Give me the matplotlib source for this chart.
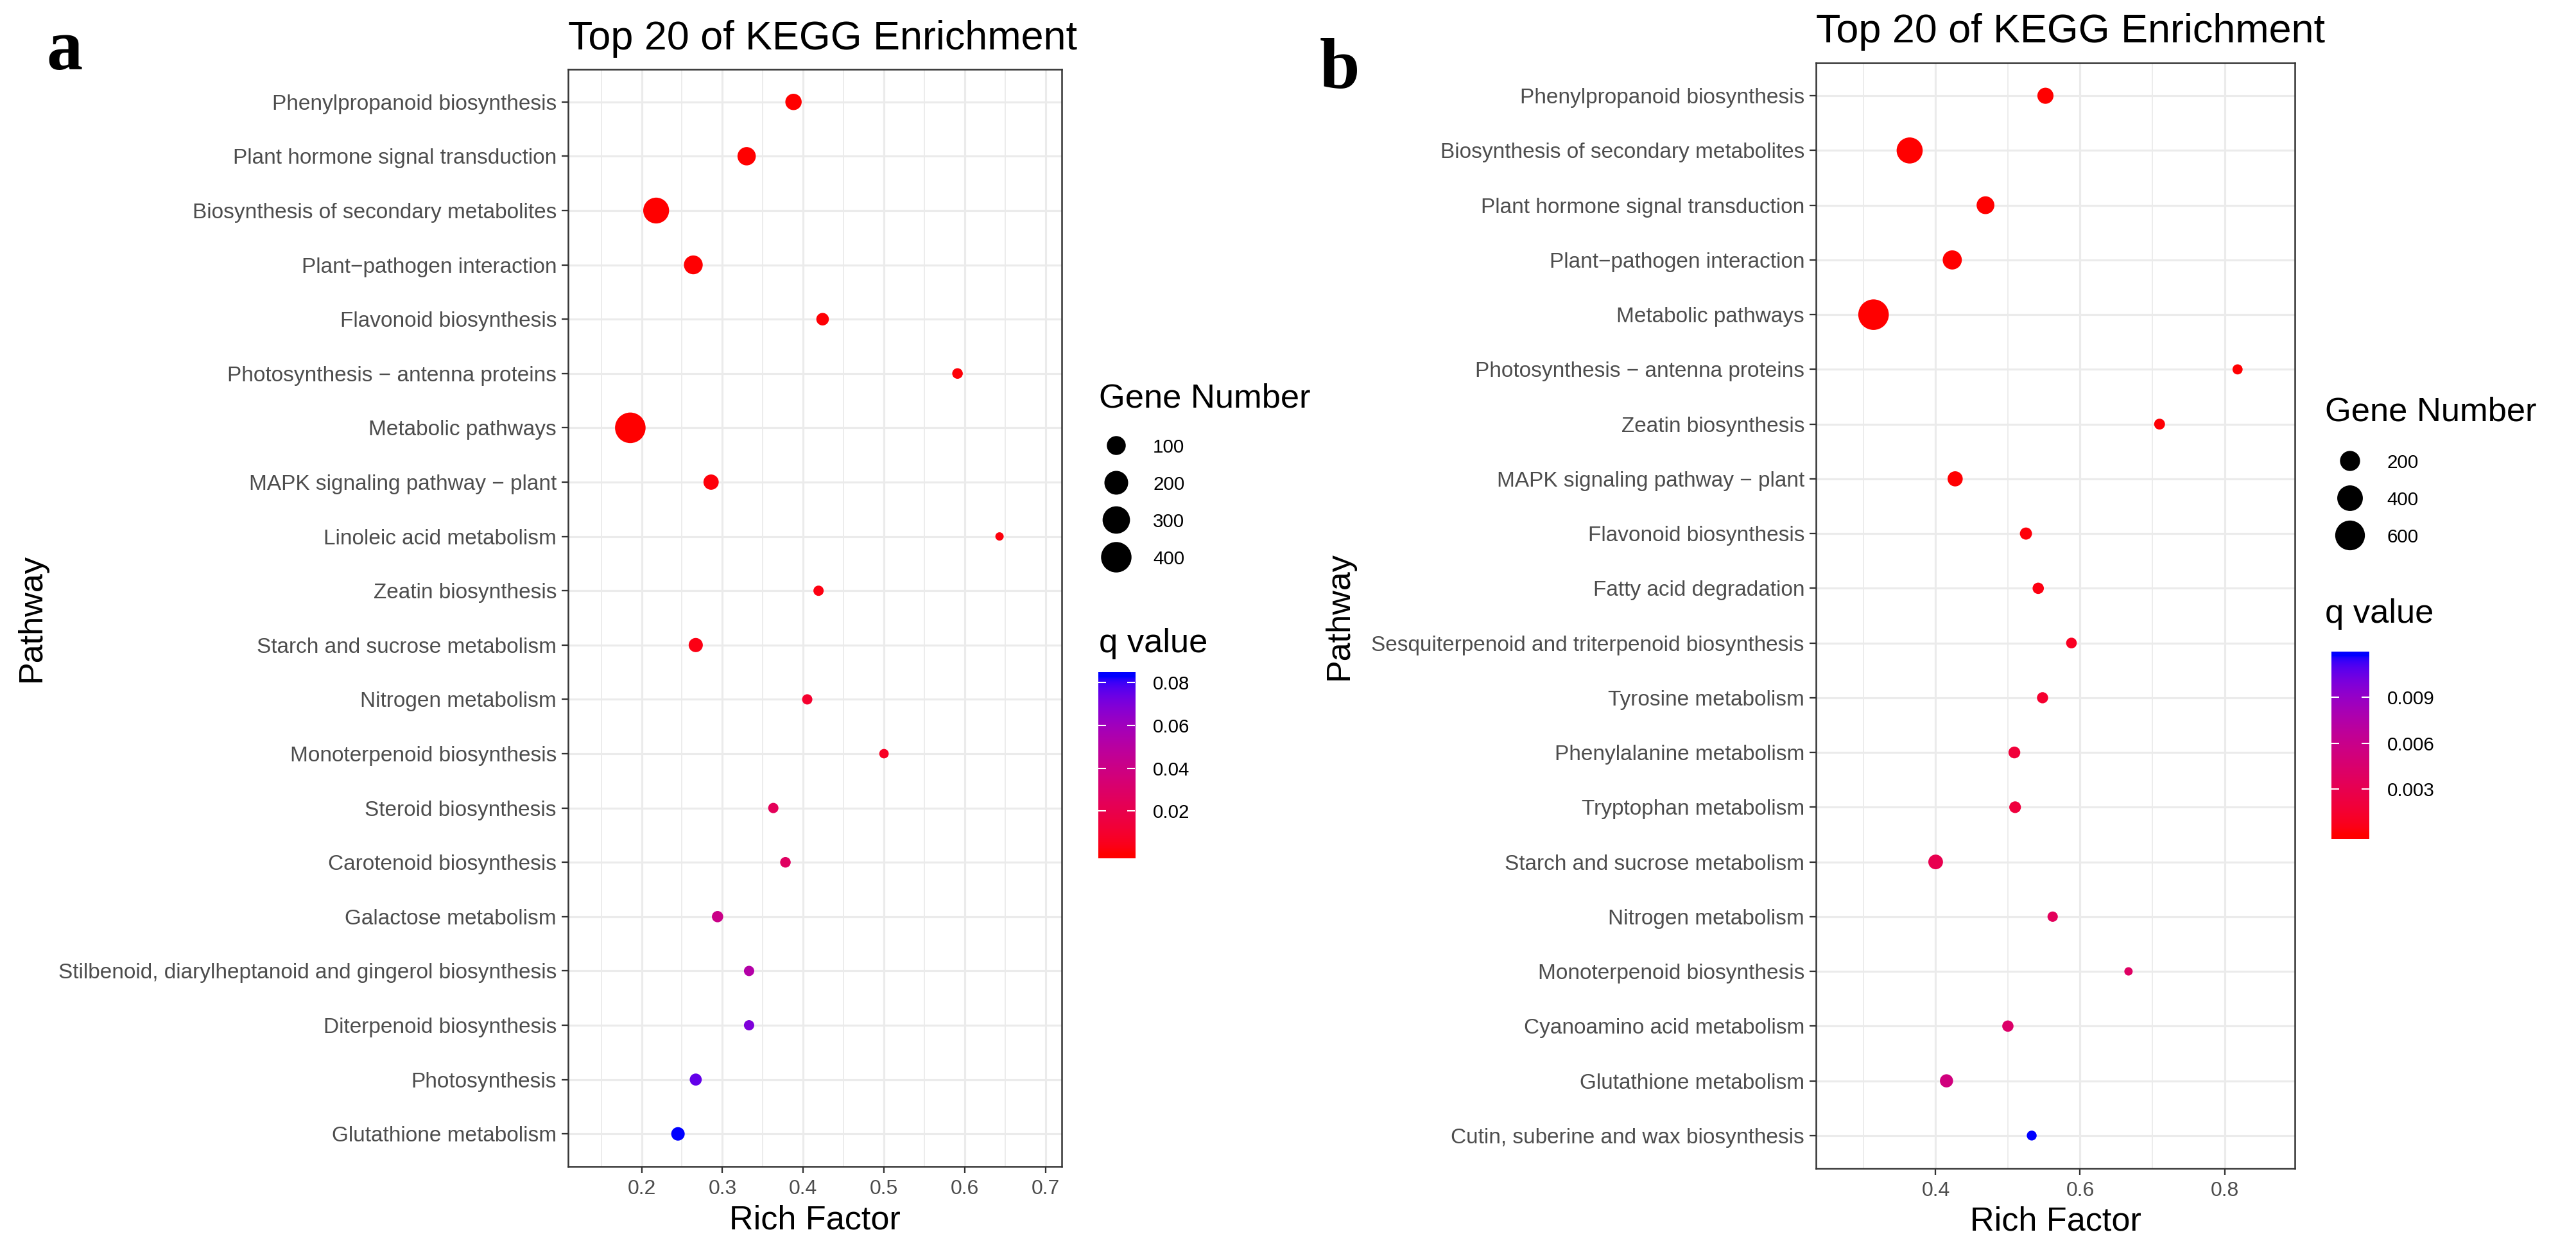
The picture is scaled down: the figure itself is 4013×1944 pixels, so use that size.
import numpy as np
import matplotlib
matplotlib.use('Agg')
import matplotlib.pyplot as plt
from matplotlib.colors import LinearSegmentedColormap, Normalize

plt.rcParams['font.family'] = ['Liberation Sans', 'DejaVu Sans']

W, H, DPI = 4013, 1944, 300
PT = 72.0 / DPI  # points per pixel

# ---------------- data ----------------
title_text = "Top 20 of KEGG Enrichment"

pathways_a = [
    "Phenylpropanoid biosynthesis",
    "Plant hormone signal transduction",
    "Biosynthesis of secondary metabolites",
    "Plant\u2212pathogen interaction",
    "Flavonoid biosynthesis",
    "Photosynthesis \u2212 antenna proteins",
    "Metabolic pathways",
    "MAPK signaling pathway \u2212 plant",
    "Linoleic acid metabolism",
    "Zeatin biosynthesis",
    "Starch and sucrose metabolism",
    "Nitrogen metabolism",
    "Monoterpenoid biosynthesis",
    "Steroid biosynthesis",
    "Carotenoid biosynthesis",
    "Galactose metabolism",
    "Stilbenoid, diarylheptanoid and gingerol biosynthesis",
    "Diterpenoid biosynthesis",
    "Photosynthesis",
    "Glutathione metabolism",
]
rich_a = [0.388, 0.330, 0.218, 0.264, 0.424, 0.591, 0.186, 0.286, 0.643, 0.419,
          0.267, 0.405, 0.500, 0.363, 0.378, 0.294, 0.333, 0.333, 0.267, 0.245]
genes_a = [62, 90, 255, 98, 25, 15, 403, 49, 11, 14,
           38, 14, 12, 14, 15, 18, 14, 14, 22, 32]
qval_a = [0.0002, 0.0003, 0.0001, 0.0005, 0.0010, 0.0012, 0.0002, 0.0015, 0.0020, 0.0025,
          0.0033, 0.0095, 0.0068, 0.0240, 0.0270, 0.0410, 0.0520, 0.0700, 0.0750, 0.0826]
size_breaks_a = [100, 200, 300, 400]
q_breaks_a = [0.02, 0.04, 0.06, 0.08]
q_labels_a = ["0.02", "0.04", "0.06", "0.08"]
x_major_a = [0.2, 0.3, 0.4, 0.5, 0.6, 0.7]
x_labels_a = ["0.2", "0.3", "0.4", "0.5", "0.6", "0.7"]
x_minor_a = [0.15, 0.25, 0.35, 0.45, 0.55, 0.65]

pathways_b = [
    "Phenylpropanoid biosynthesis",
    "Biosynthesis of secondary metabolites",
    "Plant hormone signal transduction",
    "Plant\u2212pathogen interaction",
    "Metabolic pathways",
    "Photosynthesis \u2212 antenna proteins",
    "Zeatin biosynthesis",
    "MAPK signaling pathway \u2212 plant",
    "Flavonoid biosynthesis",
    "Fatty acid degradation",
    "Sesquiterpenoid and triterpenoid biosynthesis",
    "Tyrosine metabolism",
    "Phenylalanine metabolism",
    "Tryptophan metabolism",
    "Starch and sucrose metabolism",
    "Nitrogen metabolism",
    "Monoterpenoid biosynthesis",
    "Cyanoamino acid metabolism",
    "Glutathione metabolism",
    "Cutin, suberine and wax biosynthesis",
]
rich_b = [0.552, 0.364, 0.469, 0.423, 0.314, 0.818, 0.710, 0.427, 0.525, 0.542,
          0.588, 0.548, 0.509, 0.510, 0.400, 0.562, 0.667, 0.500, 0.415, 0.533]
genes_b = [103, 421, 139, 173, 645, 31, 35, 85, 45, 38,
           34, 37, 42, 41, 77, 32, 27, 38, 56, 30]
qval_b = [0.00001, 0.00002, 0.00003, 0.00005, 0.00001, 0.00008, 0.00012, 0.00010, 0.00020, 0.00035,
          0.00090, 0.00140, 0.00190, 0.00210, 0.00290, 0.00350, 0.00390, 0.00420, 0.00530, 0.01170]
size_breaks_b = [200, 400, 600]
q_breaks_b = [0.003, 0.006, 0.009]
q_labels_b = ["0.003", "0.006", "0.009"]
x_major_b = [0.4, 0.6, 0.8]
x_labels_b = ["0.4", "0.6", "0.8"]
x_minor_b = [0.3, 0.5, 0.7]


# ---------------- colour scale (Lab interpolation red -> blue) ----------------
def _srgb_to_lab(rgb):
    c = np.asarray(rgb, float)
    lin = np.where(c <= 0.04045, c / 12.92, ((c + 0.055) / 1.055) ** 2.4)
    M = np.array([[0.4124, 0.3576, 0.1805], [0.2126, 0.7152, 0.0722], [0.0193, 0.1192, 0.9505]])
    xyz = M @ lin / np.array([0.95047, 1.0, 1.08883])
    d = 6 / 29
    f = np.where(xyz > d ** 3, np.cbrt(xyz), xyz / (3 * d * d) + 4 / 29)
    return np.array([116 * f[1] - 16, 500 * (f[0] - f[1]), 200 * (f[1] - f[2])])


def _lab_to_srgb(lab):
    L, a, b = lab
    fy = (L + 16) / 116
    fx = fy + a / 500
    fz = fy - b / 200
    d = 6 / 29
    finv = lambda t: t ** 3 if t > d else 3 * d * d * (t - 4 / 29)
    xyz = np.array([finv(fx) * 0.95047, finv(fy), finv(fz) * 1.08883])
    Minv = np.array([[3.2406, -1.5372, -0.4986], [-0.9689, 1.8758, 0.0415], [0.0557, -0.2040, 1.0570]])
    lin = np.clip(Minv @ xyz, 0, 1)
    return np.where(lin <= 0.0031308, 12.92 * lin, 1.055 * lin ** (1 / 2.4) - 0.055)


lab_lo = _srgb_to_lab([1, 0, 0])
lab_hi = _srgb_to_lab([0, 0, 1])
cmap = LinearSegmentedColormap.from_list(
    "red_blue_lab",
    [np.clip(_lab_to_srgb(lab_lo + (lab_hi - lab_lo) * t), 0, 1) for t in np.linspace(0, 1, 256)])

D_MIN, D_MAX = 13.0, 47.6  # point diameters in pixels


def diam(n, nmin, nmax):
    n = np.asarray(n, float)
    return D_MIN + (D_MAX - D_MIN) * np.sqrt(np.clip((n - nmin) / (nmax - nmin), 0, 1))


def area(n, nmin, nmax):
    return (diam(n, nmin, nmax) * PT) ** 2


fig = plt.figure(figsize=(W / DPI, H / DPI), dpi=DPI)
fig.patch.set_facecolor('white')


def frac_rect(l, t, r, b):
    return [l / W, 1 - b / H, (r - l) / W, (b - t) / H]


def ftext(x, y, s, **kw):
    return fig.text(x / W, 1 - y / H, s, **kw)


ov = fig.add_axes([0, 0, 1, 1])
ov.set_xlim(0, W)
ov.set_ylim(H, 0)
ov.axis('off')
ov.patch.set_alpha(0)

Y_TXT = 8.0
X_TXT = 7.7
AX_TITLE = 12.5
LEG_TXT = 7.1
LEG_TITLE = 12.6


def panel(box, xlim, cats, rich, genes, q, xmaj, xlab, xmin_, title, title_base,
          rf_base, pw_x, label, label_xy, leg):
    ax = fig.add_axes(frac_rect(*box))
    ypos = np.arange(len(cats))
    norm = Normalize(vmin=min(q), vmax=max(q))
    nmin, nmax = min(genes), max(genes)
    ax.set_axisbelow(True)
    ax.scatter(rich, ypos, s=area(genes, nmin, nmax), c=q, cmap=cmap, norm=norm,
               linewidths=0, zorder=3)
    ax.set_xlim(*xlim)
    ax.set_ylim(len(cats) - 0.4, -0.6)
    ax.set_yticks(ypos)
    ax.set_yticklabels(cats)
    ax.set_xticks(xmaj)
    ax.set_xticklabels(xlab)
    ax.set_xticks(xmin_, minor=True)
    ax.grid(True, which='major', color='#EBEBEB', linewidth=0.75)
    ax.grid(True, which='minor', axis='x', color='#EBEBEB', linewidth=0.45)
    ax.tick_params(axis='both', which='major', length=10 * PT, width=0.55, color='#333333',
                   labelcolor='#4D4D4D')
    ax.tick_params(axis='y', pad=8 * PT, labelsize=Y_TXT)
    ax.tick_params(axis='x', pad=10 * PT, labelsize=X_TXT)
    ax.tick_params(axis='x', which='minor', length=0)
    for sp in ax.spines.values():
        sp.set_color('#333333')
        sp.set_linewidth(0.6)
    l, t, r, b = box
    ftext(l, title_base, title, ha='left', va='baseline', fontsize=15.1, color='black')
    ftext((l + r) / 2, rf_base, "Rich Factor", ha='center', va='baseline',
          fontsize=AX_TITLE, color='black')
    ftext(pw_x, (t + b) / 2, "Pathway", rotation=90, rotation_mode='anchor',
          ha='center', va='baseline', fontsize=AX_TITLE, color='black')
    ftext(label_xy[0], label_xy[1], label, ha='left', va='baseline', fontsize=27,
          fontweight='bold', family=['Liberation Serif', 'DejaVu Serif'], color='black')

    # size legend
    ftext(leg['tx'], leg['gn_base'], "Gene Number", ha='left', va='baseline',
          fontsize=LEG_TITLE, color='black')
    brk = leg['size_breaks']
    ky = leg['key_y0'] + leg['key_dy'] * np.arange(len(brk))
    ov.scatter(np.full(len(brk), leg['kx']), ky, s=area(brk, nmin, nmax), c='black',
               linewidths=0)
    for v, yy in zip(brk, ky):
        ftext(leg['lx'], yy, str(v), ha='left', va='center_baseline', fontsize=LEG_TXT,
              color='black')

    # colour bar
    ftext(leg['tx'], leg['q_base'], "q value", ha='left', va='baseline',
          fontsize=LEG_TITLE, color='black')
    cl, ct, cr, cb = leg['bar']
    cax = fig.add_axes(frac_rect(cl, ct, cr, cb))
    half = (max(q) - min(q)) / 40.0
    lo, hi = min(q) - half, max(q) + half
    grad = np.linspace(lo, hi, 400)[:, None]
    cax.imshow(grad, aspect='auto', cmap=cmap, norm=norm, origin='lower',
               extent=[0, 1, lo, hi], interpolation='bilinear')
    cax.set_xlim(0, 1)
    cax.set_ylim(lo, hi)
    cax.set_xticks([])
    cax.set_yticks(leg['q_breaks'])
    cax.set_yticklabels(leg['q_labels'])
    cax.tick_params(axis='y', direction='in', left=True, right=True, labelleft=False,
                    labelright=True, length=12 * PT, width=0.5, color='white',
                    labelsize=LEG_TXT, labelcolor='black', pad=28 * PT)
    for sp in cax.spines.values():
        sp.set_visible(False)
    return ax


panel((885, 108, 1654, 1817), (0.109, 0.720), pathways_a, rich_a, genes_a, qval_a,
      x_major_a, x_labels_a, x_minor_a, title_text, 76.5, 1914, 63, "a", (72, 108),
      dict(tx=1712, gn_base=634, kx=1739, key_y0=694, key_dy=58, lx=1796,
           size_breaks=size_breaks_a, q_base=1016, bar=(1711, 1047, 1768, 1337),
           q_breaks=q_breaks_a, q_labels=q_labels_a))

panel((2829, 98, 3575, 1820), (0.2343, 0.8973), pathways_b, rich_b, genes_b, qval_b,
      x_major_b, x_labels_b, x_minor_b, title_text, 66, 1916, 2100, "b", (2056, 137),
      dict(tx=3622, gn_base=655, kx=3661, key_y0=718, key_dy=58, lx=3718,
           size_breaks=size_breaks_b, q_base=970, bar=(3632, 1015, 3691, 1307),
           q_breaks=q_breaks_b, q_labels=q_labels_b))

fig.savefig("out.png", dpi=DPI, facecolor='white')
